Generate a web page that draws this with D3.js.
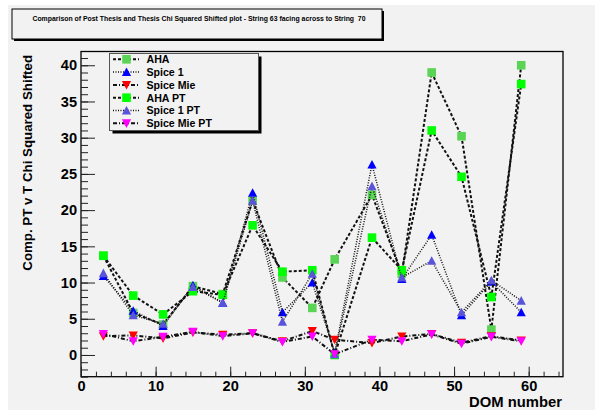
<!DOCTYPE html>
<html><head><meta charset="utf-8">
<script src="https://cdn.jsdelivr.net/npm/d3@7"></script>
<style>body{margin:0;padding:0;background:#fff}svg{display:block}text{font-family:"Liberation Sans",Arial,sans-serif;font-weight:bold}</style>
</head><body>
<svg id="c" width="595" height="410"></svg>
<script>
const xDOM = [3,7,11,15,19,23,27,31,34,39,43,47,51,55,59];
const AHA      = [13.7,5.8,4.2,9.5,8.4,21.3,10.7,6.5,13.2,22.1,11.2,39.0,30.2,3.5,40.0];
const Spice1   = [10.9,6.1,4.0,9.6,7.2,22.4,5.9,10.0,0.3,26.3,10.5,16.6,5.5,10.1,5.9];
const SpiceMie = [2.6,2.7,2.3,3.1,2.8,3.0,1.9,3.3,2.1,1.65,2.55,2.9,1.7,2.6,2.0];
const AHAPT      = [13.7,8.2,5.6,8.8,8.3,17.9,11.5,11.7,0.0,16.2,11.7,31.0,24.6,8.0,37.4];
const Spice1PT   = [11.3,5.5,4.3,9.4,7.2,21.3,4.6,11.2,0.1,23.3,10.7,13.0,5.9,10.3,7.5];
const SpiceMiePT = [2.9,1.9,2.5,3.2,2.6,3.0,1.8,2.55,0.1,2.1,1.9,2.85,1.55,2.5,1.9];
const seriesNames = ["AHA","Spice 1","Spice Mie","AHA PT","Spice 1 PT","Spice Mie PT"];
const titleText = "Comparison of Post Thesis and Thesis Chi Squared Shifted plot - String 63 facing across to String  70";
const xTitle = "DOM number";
const yTitle = "Comp. PT v T Chi Squared Shifted";
const xTicks = [0,10,20,30,40,50,60];
const yTicks = [0,5,10,15,20,25,30,35,40];

const series = [
  {name:seriesNames[0], v:AHA, color:"#59d454", marker:"square", dash:"3,2", w:2},
  {name:seriesNames[1], v:Spice1, color:"#0000ff", marker:"up", dash:"1,1.5", w:1.5},
  {name:seriesNames[2], v:SpiceMie, color:"#ff0000", marker:"down", dash:"4,2,1,2", w:2},
  {name:seriesNames[3], v:AHAPT, color:"#00ff00", marker:"square", dash:"3,2", w:2},
  {name:seriesNames[4], v:Spice1PT, color:"#5954d9", marker:"up", dash:"1,1.5", w:1.5},
  {name:seriesNames[5], v:SpiceMiePT, color:"#ff00ff", marker:"down", dash:"4,2,1,2", w:2}
];

const svg = d3.select("#c");
const bg = "#f2f2f2";
svg.append("rect").attr("x",8).attr("y",5).attr("width",587).attr("height",405).attr("fill",bg);

const X0=81, X1=563, Y0=51.5, Y1=376.7;
const x = d3.scaleLinear().domain([0,64.6]).range([X0,X1]);
const y = d3.scaleLinear().domain([-3,41.9]).range([Y1,Y0]);

// title box
svg.append("rect").attr("x",14).attr("y",11).attr("width",370).attr("height",30).attr("fill","#000");
svg.append("rect").attr("x",12).attr("y",9).attr("width",370).attr("height",30).attr("fill",bg).attr("stroke","#000").attr("stroke-width",1);
svg.append("text").attr("x",199).attr("y",21).attr("text-anchor","middle").attr("font-size",6.9).style("white-space","pre").text(titleText);

// frame
svg.append("rect").attr("x",X0).attr("y",Y0).attr("width",X1-X0).attr("height",Y1-Y0).attr("fill","none").attr("stroke","#000").attr("stroke-width",1.3);

const gx = svg.append("g").attr("transform",`translate(0,${Y1})`);
gx.call(d3.axisBottom(x).tickValues(d3.range(0,64.6,2)).tickSizeInner(-5).tickSizeOuter(0).tickFormat(""));
const gx2 = svg.append("g").attr("transform",`translate(0,${Y1})`);
gx2.call(d3.axisBottom(x).tickValues(xTicks).tickSizeInner(-10).tickSizeOuter(0).tickPadding(3.5).tickFormat(d3.format("d")));
const gy = svg.append("g").attr("transform",`translate(${X0},0)`);
gy.call(d3.axisLeft(y).tickValues(d3.range(-3,42,1)).tickSizeInner(-7).tickSizeOuter(0).tickFormat(""));
const gy2 = svg.append("g").attr("transform",`translate(${X0},0)`);
gy2.call(d3.axisLeft(y).tickValues(yTicks).tickSizeInner(-14).tickSizeOuter(0).tickPadding(4).tickFormat(d3.format("d")));
svg.selectAll(".domain").remove();
svg.selectAll(".tick line").attr("stroke","#222").attr("stroke-width",1);
svg.selectAll(".tick text").attr("font-size",14.6).attr("font-weight","bold").attr("fill","#000").attr("font-family","Liberation Sans, Arial, sans-serif");

svg.append("text").attr("x",562).attr("y",406.8).attr("text-anchor","end").attr("font-size",14.8).text(xTitle);
svg.append("text").attr("transform","translate(32,55) rotate(-90)").attr("text-anchor","end").attr("font-size",13.3).text(yTitle);

function drawMarker(g, m, cx, cy, color){
  if(m==="square"){
    g.append("rect").attr("x",cx-4.3).attr("y",cy-4.3).attr("width",8.6).attr("height",8.6).attr("fill",color);
  } else if(m==="up"){
    g.append("path").attr("d",`M${cx-4.6},${cy+4}L${cx+4.6},${cy+4}L${cx},${cy-4.6}Z`).attr("fill",color);
  } else {
    g.append("path").attr("d",`M${cx-4.6},${cy-4}L${cx+4.6},${cy-4}L${cx},${cy+4.6}Z`).attr("fill",color);
  }
}

const line = d3.line().x(d=>x(d[0])).y(d=>y(d[1]));
const plot = svg.append("g");
series.forEach(s=>{
  const pts = xDOM.map((d,i)=>[d,s.v[i]]);
  plot.append("path").attr("d",line(pts)).attr("fill","none").attr("stroke","#111").attr("stroke-width",s.w).attr("stroke-dasharray",s.dash);
  pts.forEach(p=>drawMarker(plot,s.marker,x(p[0]),y(p[1]),s.color));
});

// legend
const LX=109.5, LY=53.5, LW=149, LH=77;
svg.append("rect").attr("x",LX+3).attr("y",LY+3).attr("width",LW).attr("height",LH).attr("fill","#000");
svg.append("rect").attr("x",LX).attr("y",LY).attr("width",LW).attr("height",LH).attr("fill",bg).attr("stroke","#555").attr("stroke-width",1);
series.forEach((s,i)=>{
  const cy = 59.3 + i*12.8;
  svg.append("line").attr("x1",113).attr("x2",139).attr("y1",cy).attr("y2",cy).attr("stroke","#111").attr("stroke-width",s.w).attr("stroke-dasharray",s.dash);
  drawMarker(svg,s.marker,126.5,cy,s.color);
  svg.append("text").attr("x",146.5).attr("y",cy+3.8).attr("font-size",10.6).text(s.name);
});
</script>
</body></html>
